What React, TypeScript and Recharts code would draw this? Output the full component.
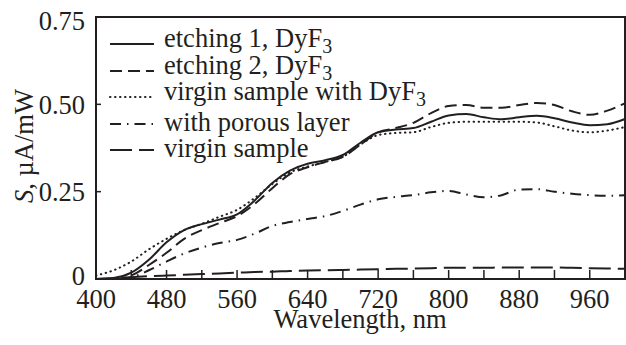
import React from 'react';
import { Legend, Line, LineChart, ReferenceArea, XAxis, YAxis } from 'recharts';

const wavelengths = [
  400, 420, 440, 460, 480, 500, 520, 540, 560, 580, 600, 620, 640, 660, 680, 700,
  720, 740, 760, 780, 800, 820, 840, 860, 880, 900, 920, 940, 960, 980, 1000,
];

const etching1 = [
  0.0, 0.003, 0.018, 0.055, 0.105, 0.14, 0.157, 0.17, 0.185, 0.225, 0.275, 0.31, 0.33, 0.34, 0.355, 0.39,
  0.42, 0.428, 0.432, 0.45, 0.468, 0.472, 0.463, 0.457, 0.463, 0.467, 0.46, 0.448, 0.44, 0.443, 0.458,
];

const etching2 = [
  0.0, 0.0, 0.01, 0.04, 0.075, 0.115, 0.14, 0.16, 0.18, 0.215, 0.26, 0.3, 0.32, 0.335, 0.35, 0.385,
  0.42, 0.432, 0.447, 0.475, 0.495, 0.498, 0.49, 0.49, 0.498, 0.504, 0.498, 0.48, 0.47, 0.482, 0.503,
];

const virginDyF3 = [
  0.01, 0.025, 0.05, 0.085, 0.115, 0.14, 0.158, 0.178, 0.198, 0.232, 0.272, 0.305, 0.322, 0.335, 0.35, 0.385,
  0.412, 0.418, 0.42, 0.435, 0.447, 0.45, 0.45, 0.45, 0.45, 0.448, 0.437, 0.425, 0.42, 0.425, 0.435,
];

const porous = [
  0.0, 0.0, 0.005, 0.025, 0.05, 0.073, 0.09, 0.103, 0.112, 0.13, 0.152, 0.163, 0.172, 0.18, 0.195, 0.213,
  0.228, 0.235, 0.24, 0.248, 0.252, 0.242, 0.234, 0.24, 0.256, 0.257, 0.25, 0.244, 0.24, 0.238, 0.24,
];

const virgin = [
  0.0, 0.002, 0.005, 0.008, 0.01, 0.012, 0.014, 0.016, 0.018, 0.02, 0.021, 0.023, 0.024, 0.025, 0.026, 0.027,
  0.028, 0.029, 0.03, 0.031, 0.032, 0.032, 0.032, 0.033, 0.033, 0.033, 0.033, 0.032, 0.031, 0.03, 0.029,
];

const xTicks = [400, 440, 480, 520, 560, 600, 640, 680, 720, 760, 800, 840, 880, 920, 960];
const yTicks = [0, 0.25, 0.5, 0.75];

const data = wavelengths.map((nm, i) => ({
  nm,
  etch1: etching1[i],
  etch2: etching2[i],
  virginDy: virginDyF3[i],
  porous: porous[i],
  virgin: virgin[i],
}));

const INK = '#231f20';
const FONT = 'Liberation Serif, DejaVu Serif, serif';
const FS = 26.5;

const series = [
  { key: 'etch1', label: 'etching 1, DyF', sub: '3', dash: undefined as string | undefined, cap: 'butt' },
  { key: 'etch2', label: 'etching 2, DyF', sub: '3', dash: '12 6', cap: 'butt' },
  { key: 'virginDy', label: 'virgin sample with DyF', sub: '3', dash: '0.5 4.5', cap: 'round' },
  { key: 'porous', label: 'with porous layer', sub: '', dash: '11 6 1.5 6', cap: 'butt' },
  { key: 'virgin', label: 'virgin sample', sub: '', dash: '22 7', cap: 'butt' },
];

const X_MARGIN = 4;
const Y_MARGIN = 4;

const XTick = (props: any) => {
  const { x, y, payload } = props;
  const axisY = y - X_MARGIN;
  const showLabel = (payload.value - 400) % 80 === 0;
  return (
    <g>
      {payload.value !== 400 && (
        <line x1={x} x2={x} y1={axisY} y2={axisY - 9} stroke={INK} strokeWidth={1.5} />
      )}
      {showLabel && (
        <text x={x} y={axisY + 29} textAnchor="middle" style={{ fontFamily: FONT, fontSize: FS }} fill={INK}>
          {payload.value}
        </text>
      )}
    </g>
  );
};

// the printed labels sit a little off their ticks at the ends of the axis
const yShift = (v: number) => (v === 0.75 ? 4 : v === 0 ? -3 : 1);

const YTick = (props: any) => {
  const { x, y, payload } = props;
  const axisX = x + Y_MARGIN;
  const v = payload.value as number;
  return (
    <g>
      {v !== 0 && v !== 0.75 && (
        <line x1={axisX} x2={axisX + 5} y1={y} y2={y} stroke={INK} strokeWidth={1.5} />
      )}
      <text
        x={axisX - 11}
        y={y + 8.5 + yShift(v)}
        textAnchor="end"
        style={{ fontFamily: FONT, fontSize: FS }}
        fill={INK}
      >
        {v === 0 ? '0' : v.toFixed(2)}
      </text>
    </g>
  );
};

const YLabel = () => (
  <text
    x={33}
    y={146}
    transform="rotate(-90 33 146)"
    textAnchor="middle"
    style={{ fontFamily: FONT, fontSize: FS }}
    fill={INK}
  >
    <tspan fontStyle="italic">S</tspan>, µA/mW
  </text>
);

const XLabel = () => (
  <text x={360} y={328} textAnchor="middle" style={{ fontFamily: FONT, fontSize: FS }} fill={INK}>
    Wavelength, nm
  </text>
);

const LegendBox = () => (
  <div style={{ fontFamily: FONT, fontSize: FS, color: INK, lineHeight: '26.5px' }}>
    {series.map((s) => (
      <div key={s.key} style={{ display: 'flex', alignItems: 'center', height: 26.5, whiteSpace: 'nowrap' }}>
        <svg width={46} height={10} style={{ marginRight: 9 }}>
          <line
            x1={1}
            x2={45}
            y1={5}
            y2={5}
            stroke={INK}
            strokeWidth={2}
            strokeDasharray={s.dash}
            strokeLinecap={s.cap as any}
          />
        </svg>
        <span style={{ position: 'relative', top: -2 }}>
          {s.label}
          {s.sub && <sub style={{ fontSize: 20, verticalAlign: -6 }}>{s.sub}</sub>}
        </span>
      </div>
    ))}
  </div>
);

export default function App() {
  return (
    <div style={{ position: 'absolute', left: 0, top: 0, background: '#fff', fontFamily: FONT }}>
      <LineChart width={626} height={345} data={data} margin={{ top: 17, right: 1, left: 0, bottom: 0 }}>
        <ReferenceArea x1={400} x2={1000} y1={0} y2={0.75} fill="none" stroke={INK} strokeWidth={2} fillOpacity={0} />
        <XAxis
          dataKey="nm"
          type="number"
          domain={[400, 1000]}
          ticks={xTicks}
          height={66}
          tickSize={0}
          tickMargin={X_MARGIN}
          tick={<XTick />}
          axisLine={{ stroke: INK, strokeWidth: 2 }}
          tickLine={false}
          interval={0}
          label={<XLabel />}
        />
        <YAxis
          type="number"
          domain={[0, 0.75]}
          ticks={yTicks}
          width={96}
          tickSize={0}
          tickMargin={Y_MARGIN}
          tick={<YTick />}
          axisLine={{ stroke: INK, strokeWidth: 2 }}
          tickLine={false}
          interval={0}
          label={<YLabel />}
        />
        {series.map((s) => (
          <Line
            key={s.key}
            dataKey={s.key}
            type="monotone"
            stroke={INK}
            strokeWidth={2}
            strokeDasharray={s.dash}
            strokeLinecap={s.cap as any}
            dot={false}
            activeDot={false}
            isAnimationActive={false}
          />
        ))}
        <Legend
          layout="vertical"
          align="center"
          verticalAlign="middle"
          content={<LegendBox />}
          wrapperStyle={{ left: 109, top: 31, width: 'auto' }}
        />
      </LineChart>
    </div>
  );
}
